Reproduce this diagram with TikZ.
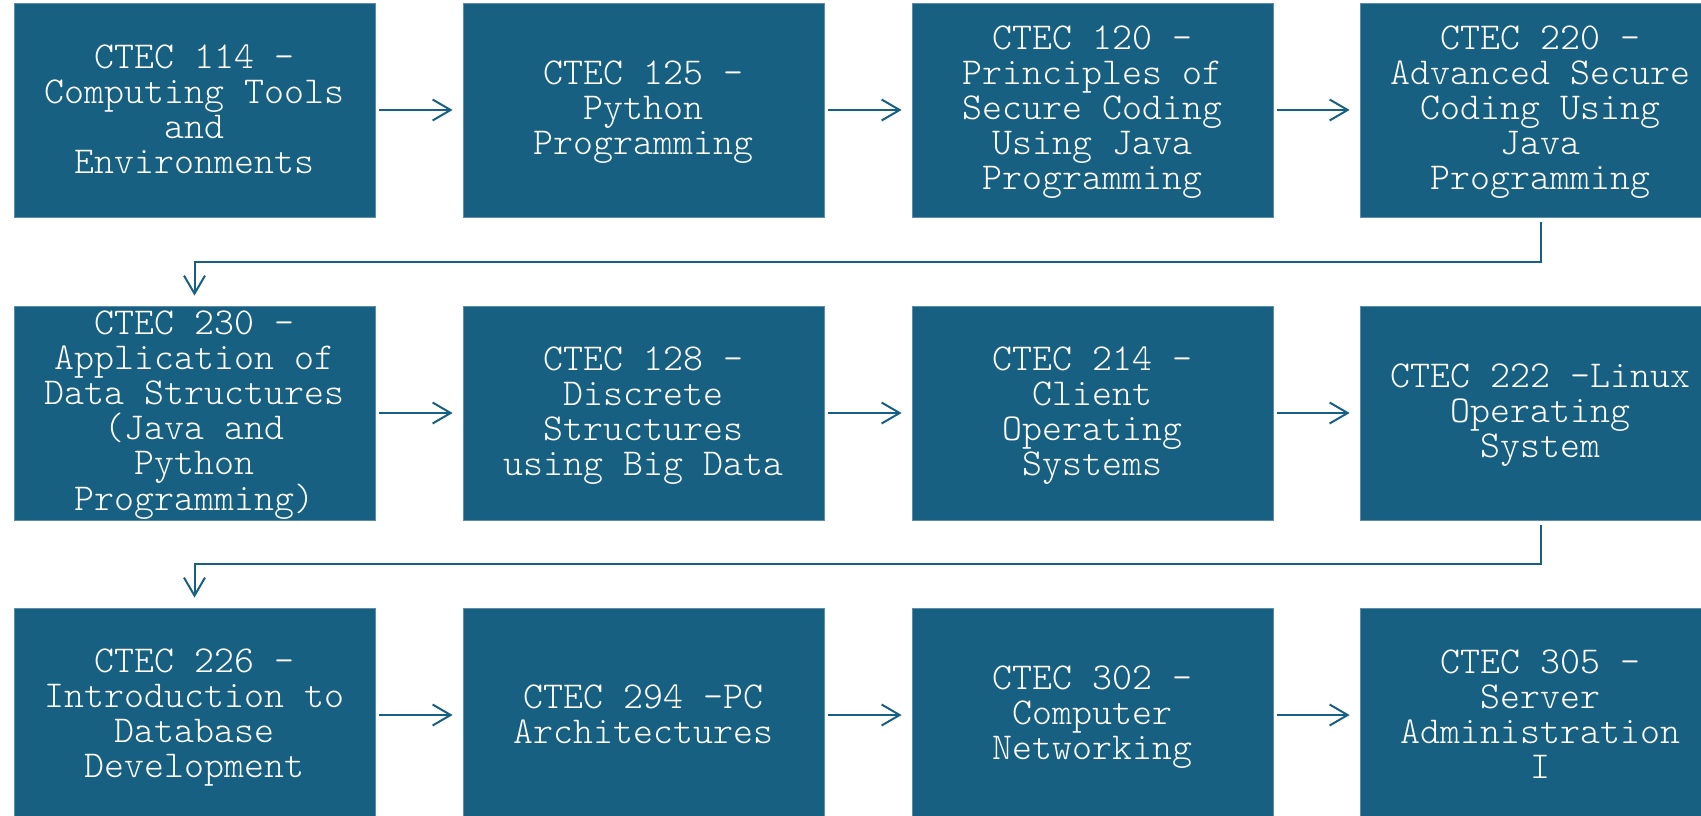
\documentclass[tikz,border=0pt]{standalone}
\usepackage{fontspec}
\newfontfamily\lmlight{Latin Modern Mono Light}
\usetikzlibrary{arrows.meta}
\definecolor{boxblue}{HTML}{176082}
\definecolor{boxedge}{HTML}{5A8EAA}
\newcommand\topst{\rule{0pt}{28pt}}
\newcommand\botst{\rule[-7pt]{0pt}{7pt}}
\tikzset{
  course/.style={rectangle, fill=boxblue, draw=boxedge, line width=0.8pt,
    minimum width=361pt, minimum height=214pt, inner sep=0pt,
    text=white, align=center,
    font=\lmlight\fontsize{38}{35}\selectfont},
  conn/.style={draw=boxblue, line width=2pt,
    -{Straight Barb[length=18pt,width=21pt,line width=2pt]}},
  hconn/.style={conn, shorten <=4pt, shorten >=10pt},
  vconn/.style={conn, shorten <=5pt, shorten >=10pt}
}
\begin{document}
\begin{tikzpicture}[x=1pt,y=-1pt]
\clip (0,0) rectangle (1701,816);
\fill[white] (0,0) rectangle (1701,816);
% row 1
\node[course] (b1) at (194.5,110) {\topst CTEC 114 –\\Computing Tools\\and\\Environments\botst};
\node[course] (b2) at (643.5,110) {\topst CTEC 125 –\\Python\\Programming\botst};
\node[course] (b3) at (1092.5,110) {\topst CTEC 120 -\\Principles of\\Secure Coding\\Using Java\\Programming\botst};
\node[course] (b4) at (1540.5,110) {\topst CTEC 220 -\\Advanced Secure\\Coding Using\\Java\\Programming\botst};
% row 2
\node[course] (b5) at (194.5,413) {\topst CTEC 230 -\\Application of\\Data Structures\\(Java and\\Python\\Programming)\botst};
\node[course] (b6) at (643.5,413) {\topst CTEC 128 -\\Discrete\\Structures\\using Big Data\botst};
\node[course] (b7) at (1092.5,413) {\topst CTEC 214 -\\Client\\Operating\\Systems\botst};
\node[course] (b8) at (1540.5,413) {\topst CTEC 222 -Linux\\Operating\\System\botst};
% row 3
\node[course] (b9) at (194.5,715) {\topst CTEC 226 -\\Introduction to\\Database\\Development\botst};
\node[course] (b10) at (643.5,715) {\topst CTEC 294 -PC\\Architectures\botst};
\node[course] (b11) at (1092.5,715) {\topst CTEC 302 –\\Computer\\Networking\botst};
\node[course] (b12) at (1540.5,715) {\topst CTEC 305 -\\Server\\Administration\\I\botst};
% connectors
\draw[hconn] (b1) -- (b2);
\draw[hconn] (b2) -- (b3);
\draw[hconn] (b3) -- (b4);
\draw[vconn] (b4.south) -- ++(0,45) -| (b5.north);
\draw[hconn] (b5) -- (b6);
\draw[hconn] (b6) -- (b7);
\draw[hconn] (b7) -- (b8);
\draw[vconn] (b8.south) -- ++(0,44) -| (b9.north);
\draw[hconn] (b9) -- (b10);
\draw[hconn] (b10) -- (b11);
\draw[hconn] (b11) -- (b12);
\end{tikzpicture}
\end{document}
